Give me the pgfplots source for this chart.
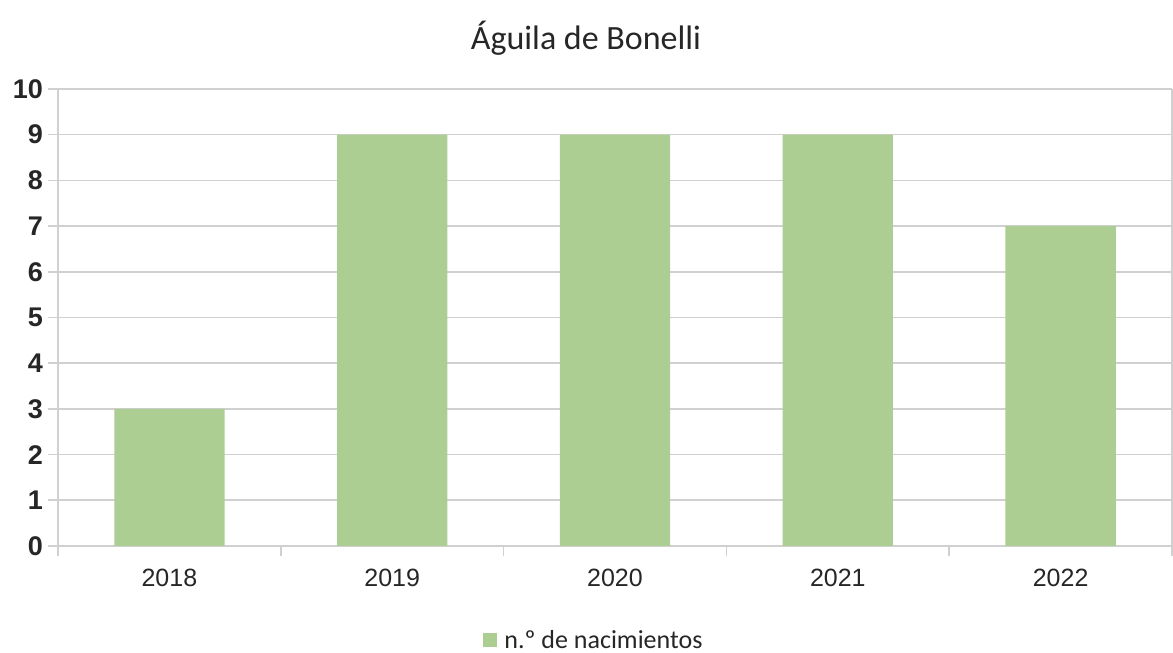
\documentclass[border=0pt]{standalone}
\usepackage{pgfplots}
\pgfplotsset{compat=1.18}
\usepackage{fontspec}
\setmainfont{Carlito}
\newfontfamily\tickfont{Liberation Sans}
\definecolor{barfill}{HTML}{ADCE93}
\definecolor{gridgray}{HTML}{D0D0D0}
\definecolor{txt}{HTML}{262626}
\begin{document}
\begin{tikzpicture}
\path[use as bounding box] (-29pt,-53.5pt) rectangle (557.5pt,273pt);
\begin{axis}[
  scale only axis,
  width=557pt, height=228.5pt,
  ybar, bar width=0.495,
  xmin=-0.5, xmax=4.5,
  ymin=0, ymax=10,
  ytick={0,1,...,10},
  xtick={0,1,2,3,4},
  xticklabels={2018,2019,2020,2021,2022},
  minor xtick={-0.5,0.5,1.5,2.5,3.5,4.5},
  major x tick style={draw=none},
  minor tick length=5pt,
  major tick length=5pt,
  tick align=outside,
  tick style={gridgray, line width=0.8pt},
  axis x line*=bottom, axis y line*=left,
  axis line style={gridgray, line width=0.8pt},
  ymajorgrids,
  grid style={gridgray, line width=0.8pt},
  extra x ticks={4.5}, extra x tick labels={},
  extra x tick style={xmajorgrids, major tick length=0pt},
  /pgf/number format/assume math mode=true,
  yticklabel style={font=\tickfont\bfseries\fontsize{13.5}{15}\selectfont, text=txt, xshift=1pt},
  xticklabel style={font=\tickfont\fontsize{12.5}{15}\selectfont, text=txt, yshift=-3pt},
  clip=false,
]
\addplot[fill=barfill, draw=none] coordinates {(0,3) (1,9) (2,9) (3,9) (4,7)};
\end{axis}
\node[text=txt, font=\fontsize{17}{20}\selectfont] at (264pt,254pt) {Águila de Bonelli};
\fill[barfill] (212.5pt,-50.5pt) rectangle (219.5pt,-43.5pt);
\node[anchor=west, text=txt, font=\fontsize{13}{15}\selectfont, inner sep=0pt] at (223pt,-47pt) {n.º de nacimientos};
\end{tikzpicture}
\end{document}
